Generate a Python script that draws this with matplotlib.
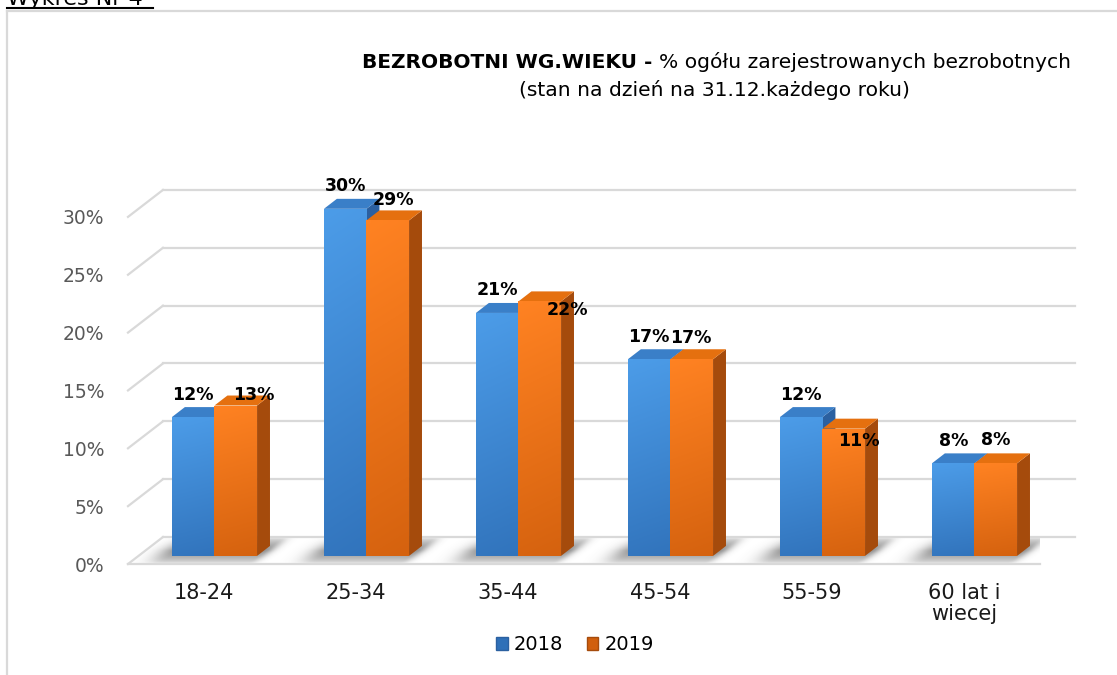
import numpy as np
import matplotlib
matplotlib.use("Agg")
import matplotlib.pyplot as plt
from matplotlib.patches import Polygon, Patch
from matplotlib.lines import Line2D
from matplotlib.colors import LinearSegmentedColormap

# data
categories = ["18-24", "25-34", "35-44", "45-54", "55-59", "60 lat i\nwiecej"]
years = ["2018", "2019"]
share_2018 = [12, 30, 21, 17, 12, 8]
share_2019 = [13, 29, 22, 17, 11, 8]
yticks = [0, 5, 10, 15, 20, 25, 30]

# label nudges for 2019 (pixels, as placed in the original)
label_shift_2019 = [(18, -12), (5.5, -2), (27.5, -31), (-1.5, -1.5), (15.5, -35), (-0.5, 0.5)]

# look
W_PX, H_PX = 1117, 675
DX, DY = 0.23, 2.33          # depth of the 3D box (x units, y units)
F0, F1 = 0.30, 0.67          # bar front / back depth fractions
BW = 0.28                    # bar width
GRID = "#d9d9d9"
styles = {
    "2018": dict(top="#4c9ce8", bot="#2f70b8", cap="#3a7fc8", side="#2b60a0"),
    "2019": dict(top="#ff8222", bot="#d15f0d", cap="#e5700f", side="#a54b0c"),
}

fig = plt.figure(figsize=(W_PX / 100, H_PX / 100), dpi=100)
px_per = 11.57
ax = fig.add_axes([128 / W_PX, (H_PX - 564) / H_PX, 912 / W_PX, 33 * px_per / H_PX])
ax.set_xlim(-0.5, 5.5)
ax.set_ylim(0, 33)
for s in ax.spines.values():
    s.set_visible(False)


def line(xs, ys, **kw):
    ax.add_line(Line2D(xs, ys, color=GRID, lw=1.6, clip_on=False, zorder=1, **kw))


def gradient_fill(patch, c_top, c_bot, z):
    x0, y0 = patch.get_xy()
    w, h = patch.get_width(), patch.get_height()
    cmap = LinearSegmentedColormap.from_list("g", [c_bot, c_top])
    g = np.linspace(0, 1, 64)[:, None] * np.ones((1, 8))
    g = g * 0.85 + 0.15 * np.linspace(1, 0.6, 8)[None, :]
    im = ax.imshow(g, cmap=cmap, extent=(x0, x0 + w, y0, y0 + h), origin="lower",
                   aspect="auto", zorder=z, interpolation="bilinear", vmin=0, vmax=1)
    im.set_clip_path(patch)


# floor
floor = Polygon([(-0.5, 0), (5.5, 0), (5.5 + DX, DY), (-0.5 + DX, DY)], closed=True,
                facecolor="white", edgecolor="none", zorder=0.5)
ax.add_patch(floor)
line([-0.5, 5.5], [0, 0])
# side wall diagonals and back wall lines
for v in yticks:
    line([-0.5, -0.5 + DX], [v, v + DY])
    line([-0.5 + DX, 5.5 + DX], [v + DY, v + DY])

# soft floor shadows
n = len(categories)
xs_g = np.linspace(-0.5, 5.5 + DX, 900)
ys_g = np.linspace(0, DY, 60)
XX, YY = np.meshgrid(xs_g, ys_g)
alpha = np.zeros_like(XX)
f = YY / DY
depth_w = np.clip(1 - np.abs(f - 0.5) / 0.5, 0, 1) ** 0.5
for i in range(n):
    left = i - BW + f * DX
    right = i + BW + f * DX
    d_left = np.clip(left - XX, 0, None)
    d_right = np.clip(XX - right, 0, None)
    a = np.exp(-(d_left / 0.12) ** 2) * np.exp(-(d_right / 0.06) ** 2)
    alpha = np.maximum(alpha, 0.6 * a * depth_w)
rgba = np.zeros(XX.shape + (4,))
rgba[..., :3] = 0.3
rgba[..., 3] = alpha
sh = ax.imshow(rgba, extent=(xs_g[0], xs_g[-1], 0, DY), origin="lower", aspect="auto",
               zorder=0.8, interpolation="bilinear")
sh.set_clip_path(floor)

# bars
base = F0 * DY
bd = F1 - F0
for k, (year, vals) in enumerate(zip(years, [share_2018, share_2019])):
    st = styles[year]
    x_left = np.arange(n) - BW + k * BW + F0 * DX
    rects = ax.bar(x_left, vals, width=BW, bottom=base, align="edge",
                   color=st["bot"], zorder=3 + 3 * k, linewidth=0)
    for j, r in enumerate(rects):
        x0, v = x_left[j], vals[j]
        top = base + v
        z = 2 + 3 * k
        side = Polygon([(x0 + BW, base), (x0 + BW + bd * DX, base + bd * DY),
                        (x0 + BW + bd * DX, top + bd * DY), (x0 + BW, top)],
                       closed=True, facecolor=st["side"], edgecolor="none", zorder=z)
        cap = Polygon([(x0, top), (x0 + BW, top), (x0 + BW + bd * DX, top + bd * DY),
                       (x0 + bd * DX, top + bd * DY)],
                      closed=True, facecolor=st["cap"], edgecolor="none", zorder=z + 0.5)
        ax.add_patch(side)
        ax.add_patch(cap)
        gradient_fill(r, st["top"], st["bot"], 3.5 + 3 * k)
        if k == 0:
            off = (0, 12.5)
        else:
            off = (label_shift_2019[j][0], 12.5 + label_shift_2019[j][1])
        ax.annotate(f"{v}%", (x0 + BW / 2, top + bd * DY), xytext=off,
                    textcoords="offset pixels", ha="center", va="center",
                    fontsize=12.5, fontweight="bold", color="black", zorder=10,
                    annotation_clip=False)

ax.set_xticks(range(n))
ax.set_xticklabels(categories, fontsize=15, color="#1a1a1a", linespacing=1.05)
ax.set_yticks(yticks)
ax.set_yticklabels([f"{v}%" for v in yticks], fontsize=13.5, color="#595959")
ax.tick_params(axis="x", length=0, pad=14)
ax.tick_params(axis="y", length=0, pad=17)

# title
fig.text(652 / W_PX, 1 - 62 / H_PX, "BEZROBOTNI WG.WIEKU -", ha="right", va="center",
         fontsize=14.5, fontweight="bold")
fig.text(659 / W_PX, 1 - 62 / H_PX, "% ogółu zarejestrowanych bezrobotnych", ha="left",
         va="center", fontsize=14.6)
fig.text(714 / W_PX, 1 - 90 / H_PX, "(stan na dzień na 31.12.każdego roku)", ha="center",
         va="center", fontsize=14.6)

# legend
handles = [Patch(facecolor=styles[y]["bot"], edgecolor=styles[y]["side"], label=y) for y in years]
fig.legend(handles=handles, loc="center", bbox_to_anchor=(575 / W_PX, 1 - 645 / H_PX),
           ncol=2, frameon=False, fontsize=14, handlelength=0.6, handleheight=0.6,
           handletextpad=0.3, columnspacing=1.2)

# page frame and caption
fig.add_artist(Line2D([7 / W_PX, 1], [1 - 11 / H_PX] * 2, color=GRID, lw=1.6))
fig.add_artist(Line2D([7 / W_PX] * 2, [0, 1 - 11 / H_PX], color=GRID, lw=1.6))
fig.text(7 / W_PX, 1 - 5 / H_PX, "Wykres Nr 4", ha="left", va="baseline", fontsize=16)
fig.add_artist(Line2D([7 / W_PX, 153 / W_PX], [1 - 8 / H_PX] * 2, color="black", lw=1.5))

fig.savefig("out.png", dpi=100)
